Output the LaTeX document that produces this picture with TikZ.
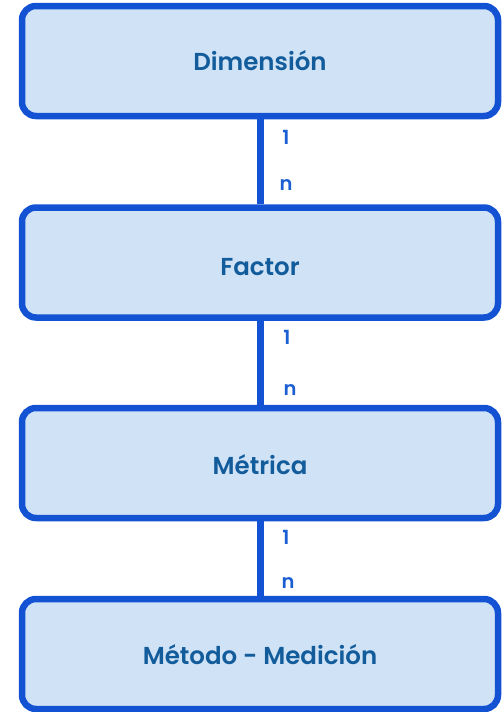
\documentclass[tikz,border=0pt]{standalone}
\usepackage{fontspec}
\setmainfont{Poppins}[BoldFont={Poppins SemiBold}]
\definecolor{boxfill}{HTML}{D0E2F5}
\definecolor{boxedge}{HTML}{1452D4}
\definecolor{boxtext}{HTML}{135C9C}
\definecolor{cardtext}{HTML}{1C5FD2}
\begin{document}
\begin{tikzpicture}[x=1pt,y=-1pt,
  entity/.style={draw=boxedge, fill=boxfill, line width=6.5pt, rounded corners=14pt,
    minimum width=476pt, minimum height=110pt, inner sep=0pt, text depth=0pt,
    text=boxtext, font=\fontsize{24.5}{28}\selectfont\bfseries},
  link/.style={draw=boxedge, line width=7pt},
  card/.style={text=cardtext, font=\fontsize{19.5}{22}\selectfont\bfseries, inner sep=0pt}]
  \useasboundingbox (0,0) rectangle (502,712);
  % entity boxes; text height sets where each baseline sits
  \node[entity, text height=18pt] (dim) at (260,61) {Dimensión};
  \node[entity, text height=26pt] (fac) at (260,262.5) {Factor};
  \node[entity, text height=22pt] (met) at (260,463) {Métrica};
  \node[entity, text height=20pt] (med) at (260,654) {Método - Medición};
  % one-to-many links
  \draw[link] (dim.south) -- (fac.north);
  \draw[link] (fac.south) -- (met.north);
  \draw[link] (met.south) -- (med.north);
  \node[card] (c1a) at (286,137) {1};
  \node[card] (c1b) at (286,185) {n};
  \node[card] (c2a) at (287,337) {1};
  \node[card] (c2b) at (290,390) {n};
  \node[card] (c3a) at (286,537) {1};
  \node[card] (c3b) at (288,583) {n};
\end{tikzpicture}
\end{document}
